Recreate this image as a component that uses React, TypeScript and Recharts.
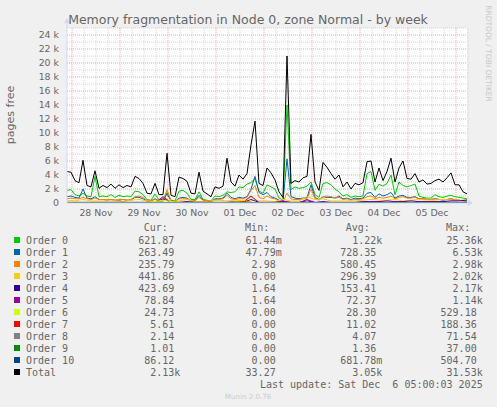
import React from 'react';
import { LineChart, Line, XAxis, YAxis, CartesianGrid } from 'recharts';

// time in hours since Nov 27 21:30 (left edge of the graph)
const HOURS_2H = Array.from({ length: 101 }, (_, i) => i * 2);
const HOURS_4H = Array.from({ length: 51 }, (_, i) => i * 4);
const HOURS_8H = Array.from({ length: 26 }, (_, i) => i * 8);

const DAY_LABELS = ['28 Nov', '29 Nov', '30 Nov', '01 Dec', '02 Dec', '03 Dec', '04 Dec', '05 Dec'];
const DAY_LABEL_HOURS = [14.5, 38.5, 62.5, 86.5, 110.5, 134.5, 158.5, 182.5];
const MIDNIGHT_HOURS = [2.5, 26.5, 50.5, 74.5, 98.5, 122.5, 146.5, 170.5, 194.5];
const SIX_HOUR_HOURS = [8.5, 14.5, 20.5, 32.5, 38.5, 44.5, 56.5, 62.5, 68.5, 80.5, 86.5, 92.5, 104.5, 110.5, 116.5, 128.5, 134.5, 140.5, 152.5, 158.5, 164.5, 176.5, 182.5, 188.5, 200.5];
const Y_TICKS = [0, 2, 4, 6, 8, 10, 12, 14, 16, 18, 20, 22, 24];
const Y_MINOR = [1, 3, 5, 7, 9, 11, 13, 15, 17, 19, 21, 23, 25];

// values in thousands of pages
const TOTAL = [4.5,4.4,3.2,2.9,6.1,2.5,2.3,4.6,2.1,2.5, 2.2,2.7,2.1,2.6,2.2,2.5,2.3,3.8,3.5,2.8, 1.4,1.3,2.8,1.2,1.2,7.1,1.1,0.9,3.7,3.5, 3.1,1.4,1.3,4.4,1.7,1.3,0.9,2.3,2.1,2.4, 6.4,3.0,2.4,4.0,3.4,4.2,8.3,11.7,2.8,2.5, 5.0,4.3,3.3,1.6,0.8,21.0,2.8,3.2,3.0,3.6, 3.8,9.8,3.0,1.8,5.8,5.1,4.2,3.4,4.0,2.3, 3.0,2.0,2.8,2.6,2.9,5.9,6.0,3.0,5.0,3.2, 4.5,6.4,3.0,5.0,6.0,3.5,3.4,4.2,3.0,3.3, 2.7,2.8,3.2,3.4,3.0,3.6,4.3,2.6,2.6,1.6, 1.3];
const ORDER0 = [1.8,1.9,1.2,1.0,1.4,1.0,0.9,3.8,0.9,1.0, 0.9,1.2,0.8,1.1,0.9,1.0,0.9,1.7,1.6,1.2, 0.5,0.4,1.3,0.4,0.4,1.5,0.4,0.3,1.7,1.8, 1.4,0.5,0.5,1.6,0.5,0.4,0.3,1.0,0.9,1.1, 1.6,1.5,1.6,2.3,2.2,2.7,2.9,3.5,1.7,1.4, 2.6,2.3,2.0,0.7,0.4,14.0,1.9,2.3,2.1,2.2, 2.4,3.0,1.2,0.8,2.8,2.9,2.6,2.0,1.6,1.0, 1.2,0.8,1.0,0.9,1.0,4.2,4.5,1.8,2.7,2.4, 2.8,4.0,1.2,3.0,2.5,2.3,2.5,2.7,1.0,0.8, 0.7,0.7,1.2,0.9,0.8,1.0,1.1,0.9,0.8,0.7, 0.6];
const ORDER1 = [0.9,1.0,0.8,0.7,2.0,0.7,0.6,0.9,0.5,0.5, 0.4,0.5,0.4,0.4,0.5,0.4,0.4,0.8,0.8,0.6, 0.3,0.3,0.6,0.3,0.3,1.3,0.3,0.2,0.7,0.8, 0.7,0.3,0.3,1.1,0.4,0.3,0.2,0.6,0.6,0.7, 1.4,0.8,0.6,0.8,0.7,0.9,2.0,3.8,1.5,1.2, 1.5,0.9,0.7,0.4,0.2,6.3,0.9,0.7,0.6,0.7, 0.8,2.6,0.8,0.5,0.9,0.8,0.8,0.7,1.0,0.6, 0.7,0.5,0.7,0.6,0.7,1.4,1.5,0.8,1.3,1.0, 1.2,1.5,0.7,1.0,1.1,0.8,0.8,0.9,0.6,0.6, 0.5,0.5,0.6,0.5,0.4,0.5,0.6,0.4,0.4,0.3, 0.26];
const ORDER2 = [0.6,0.7,0.6,0.6,0.8,0.6,0.5,0.7,0.5,0.5, 0.5,0.5,0.4,0.5,0.5,0.4,0.5,0.9,1.0,0.8, 0.4,0.3,0.5,0.3,0.3,1.9,0.3,0.2,0.6,0.6, 0.6,0.3,0.3,0.8,0.4,0.3,0.2,0.5,0.5,0.6, 1.1,0.6,0.5,0.6,0.6,0.8,1.8,2.5,0.8,0.6, 1.0,0.7,0.6,0.3,0.2,1.4,0.6,0.5,0.5,0.6, 0.6,2.0,0.6,0.4,0.9,1.0,0.9,0.7,0.8,0.5, 0.6,0.4,0.5,0.5,0.6,0.9,1.0,0.6,0.8,0.7, 0.8,1.0,0.6,0.8,0.9,0.7,0.7,0.8,0.6,0.6, 0.5,0.5,0.6,0.5,0.5,0.5,0.6,0.5,0.4,0.3, 0.24];
const ORDER3 = [0.4,0.3,0.5,0.3,0.3,0.3,0.3,0.2,0.4,0.5, 0.3,0.2,0.8,0.2,0.3,0.5,0.2,0.2,0.3,0.4, 0.3,0.4,0.3,0.8,0.3,0.3,0.2,0.5,0.3,0.3, 0.9,0.5,0.6,0.3,0.3,0.3,0.3,0.4,0.5,0.4, 0.4,0.5,0.3,0.4,0.5,0.4,0.4,0.5,0.4,0.4, 0.44];
const ORDER4 = [0.1,0.1,0.1,0.1,0.1,0.1,0.1,0.1,0.1,0.1, 0.1,0.1,0.6,0.1,0.1,0.2,0.1,0.1,0.1,0.1, 0.1,0.2,0.1,0.5,0.1,0.1,0.1,0.2,0.1,0.1, 0.3,0.1,0.2,0.1,0.1,0.1,0.1,0.2,0.2,0.2, 0.3,0.2,0.2,0.3,0.2,0.2,0.2,0.2,0.3,0.3, 0.42];
const ORDER5 = [0.05,0.05,0.05,0.05,0.05,0.05,0.05,0.05,0.05,0.05, 0.05,0.05,0.9,0.05,0.05,0.1,0.05,0.05,0.05,0.05, 0.05,0.1,0.05,1.0,0.05,0.05,0.05,0.3,0.05,0.05, 0.5,0.05,0.1,0.05,0.05,0.05,0.05,0.1,0.1,0.1, 0.1,0.1,0.1,0.1,0.1,0.08,0.08,0.08,0.1,0.08, 0.08];
const ORDER6 = [0.02,0.02,0.02,0.02,0.02,0.02,0.4,0.02,0.02,0.02,0.02,0.3,0.02,0.02,0.02,0.1,0.02,0.03,0.03,0.03,0.03,0.03,0.03,0.03,0.03,0.025];
const ORDER7 = [0.01,0.01,0.01,0.01,0.01,0.01,0.1,0.01,0.01,0.01,0.01,0.19,0.01,0.01,0.01,0.02,0.01,0.01,0.01,0.01,0.01,0.01,0.01,0.01,0.01,0.006];
const ORDER8 = [0.004,0.004,0.004,0.004,0.004,0.004,0.05,0.004,0.004,0.004,0.004,0.07,0.004,0.004,0.004,0.004,0.004,0.004,0.004,0.004,0.004,0.004,0.004,0.004,0.004,0.002];
const ORDER9 = [0.001,0.001,0.001,0.001,0.001,0.001,0.03,0.001,0.001,0.001,0.001,0.037,0.001,0.001,0.001,0.001,0.001,0.001,0.001,0.001,0.001,0.001,0.001,0.001,0.001,0.001];
const ORDER10 = [0,0,0,0,0,0,0,0,0,0,0,0,0,0,0,0,0,0,0,0,0,0,0,0,0,0.086];

const LEGEND_NAMES = ['Order 0', 'Order 1', 'Order 2', 'Order 3', 'Order 4', 'Order 5', 'Order 6', 'Order 7', 'Order 8', 'Order 9', 'Order 10', 'Total'];
const LEGEND_COLORS = ['#00cc00', '#0066b3', '#ff8000', '#ffcc00', '#330099', '#990099', '#ccff00', '#ff0000', '#808080', '#008f00', '#00487d', '#000000'];
const CUR = ['621.87', '263.49', '235.79', '441.86', '423.69', '78.84', '24.73', '5.61', '2.14', '1.01', '86.12', '2.13k'];
const MIN = ['61.44m', '47.79m', '2.98', '0.00', '1.64', '1.64', '0.00', '0.00', '0.00', '0.00', '0.00', '33.27'];
const AVG = ['1.22k', '728.35', '580.45', '296.39', '153.41', '72.37', '28.30', '11.02', '4.07', '1.36', '681.78m', '3.05k'];
const MAX = ['25.36k', '6.53k', '2.98k', '2.02k', '2.17k', '1.14k', '529.18', '188.36', '71.54', '37.00', '504.70', '31.53k'];
const HEADERS = ['Cur:', 'Min:', 'Avg:', 'Max:'];

const data2h = HOURS_2H.map((h, i) => ({ h, total: TOTAL[i], o0: ORDER0[i], o1: ORDER1[i], o2: ORDER2[i] }));
const data4h = HOURS_4H.map((h, i) => ({ h, o3: ORDER3[i], o4: ORDER4[i], o5: ORDER5[i] }));
const data8h = HOURS_8H.map((h, i) => ({ h, o6: ORDER6[i], o7: ORDER7[i], o8: ORDER8[i], o9: ORDER9[i], o10: ORDER10[i] }));

const SERIES = [
  { key: 'o0', data: data2h, color: LEGEND_COLORS[0] },
  { key: 'o1', data: data2h, color: LEGEND_COLORS[1] },
  { key: 'o2', data: data2h, color: LEGEND_COLORS[2] },
  { key: 'o3', data: data4h, color: LEGEND_COLORS[3] },
  { key: 'o4', data: data4h, color: LEGEND_COLORS[4] },
  { key: 'o5', data: data4h, color: LEGEND_COLORS[5] },
  { key: 'o6', data: data8h, color: LEGEND_COLORS[6] },
  { key: 'o7', data: data8h, color: LEGEND_COLORS[7] },
  { key: 'o8', data: data8h, color: LEGEND_COLORS[8] },
  { key: 'o9', data: data8h, color: LEGEND_COLORS[9] },
  { key: 'o10', data: data8h, color: LEGEND_COLORS[10] },
  { key: 'total', data: data2h, color: LEGEND_COLORS[11] },
];

const FONT = '#666666';
const SANS = '"DejaVu Sans", sans-serif';
const MONO = '"DejaVu Sans Mono", monospace';
const AXIS = '#CFD6F8';

const COL_EDGES = [180.3, 281.7, 382.3, 482.7];

function valX(edge: number, s: string) {
  return /[0-9]$/.test(s) ? edge - 6 : edge;
}

export default function App() {
  return (
    <div style={{ position: 'absolute', left: 0, top: 0, width: 497, height: 407, background: '#f0f0f0' }}>
      <LineChart width={497} height={407} margin={{ top: 28, right: 30, left: 7, bottom: 184 }}>
        <CartesianGrid fill="#ffffff" stroke="#d6d6d6" strokeDasharray="1 1" horizontalValues={Y_MINOR} verticalValues={SIX_HOUR_HOURS} />
        <CartesianGrid stroke="#f4a2a2" strokeDasharray="1 1" horizontalValues={Y_TICKS.filter((v) => v > 0)} verticalValues={MIDNIGHT_HOURS} />
        <XAxis
          dataKey="h"
          type="number"
          domain={[0, 200]}
          allowDataOverflow
          ticks={DAY_LABEL_HOURS}
          tickFormatter={(v: number) => DAY_LABELS[DAY_LABEL_HOURS.indexOf(v)] ?? ''}
          tick={{ fill: FONT, fontSize: 9.4, fontFamily: SANS }}
          tickLine={false}
          tickSize={0}
          tickMargin={6}
          height={20}
          axisLine={{ stroke: AXIS }}
          interval={0}
        />
        <YAxis
          type="number"
          domain={[0, 25]}
          allowDataOverflow
          ticks={Y_TICKS}
          tickFormatter={(v: number) => (v === 0 ? '0' : `${v} k`)}
          tick={{ fill: FONT, fontSize: 9.4, fontFamily: SANS }}
          tickLine={false}
          tickSize={0}
          tickMargin={8}
          width={60}
          axisLine={{ stroke: AXIS }}
          interval={0}
        />
        {SERIES.map((s) => (
          <Line
            key={s.key}
            data={s.data}
            dataKey={s.key}
            type="linear"
            stroke={s.color}
            strokeWidth={1}
            dot={false}
            activeDot={false}
            isAnimationActive={false}
          />
        ))}
      </LineChart>
      <svg width={497} height={407} style={{ position: 'absolute', left: 0, top: 0, pointerEvents: 'none' }}>
        <line x1={67} y1={28} x2={67} y2={21} stroke={AXIS} />
        <polygon points="64,23 70,23 67,18" fill={AXIS} />
        <line x1={467} y1={203} x2={470} y2={203} stroke={AXIS} />
        <polygon points="468,200 468,206 473,203" fill={AXIS} />
        <text x={248} y={24} textAnchor="middle" fontFamily={SANS} fontSize={12.5} fill={FONT}>
          Memory fragmentation in Node 0, zone Normal - by week
        </text>
        <text x={14} y={115} textAnchor="middle" fontFamily={SANS} fontSize={11} fill={FONT} transform="rotate(-90 14 115)">
          pages free
        </text>
        <text x={486} y={53.5} textAnchor="middle" fontFamily={SANS} fontSize={7.5} fill="#c8c8c8" transform="rotate(90 486 53.5)">
          RRDTOOL / TOBI OETIKER
        </text>
        {HEADERS.map((h, j) => (
          <text key={h} x={COL_EDGES[j] - 12.5} y={231} textAnchor="end" fontFamily={MONO} fontSize={10} fill={FONT}>
            {h}
          </text>
        ))}
        {LEGEND_NAMES.map((name, i) => {
          const y = 243.5 + 12 * i;
          const cols = [CUR[i], MIN[i], AVG[i], MAX[i]];
          return (
            <g key={name}>
              <rect x={14} y={y - 6.5} width={6} height={6} fill={LEGEND_COLORS[i]} />
              <text x={26} y={y} fontFamily={MONO} fontSize={10} fill={FONT}>
                {name}
              </text>
              {cols.map((c, j) => (
                <text key={j} x={valX(COL_EDGES[j], c)} y={y} textAnchor="end" fontFamily={MONO} fontSize={10} fill={FONT}>
                  {c}
                </text>
              ))}
            </g>
          );
        })}
        <text x={482.7} y={387.5} textAnchor="end" fontFamily={MONO} fontSize={10} fill={FONT} style={{ whiteSpace: 'pre' }}>
          {'Last update: Sat Dec  6 05:00:03 2025'}
        </text>
        <text x={248} y={398.6} textAnchor="middle" fontFamily={SANS} fontSize={7.1} fill="#cccccc">
          Munin 2.0.76
        </text>
      </svg>
    </div>
  );
}
